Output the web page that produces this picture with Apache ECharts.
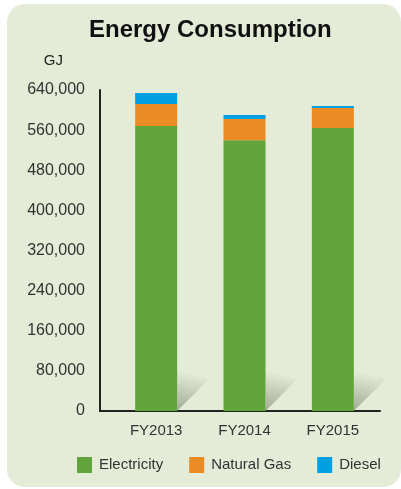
<!DOCTYPE html>
<html>
<head>
<meta charset="utf-8">
<script src="https://cdn.jsdelivr.net/npm/echarts@6/dist/echarts.min.js"></script>
<style>
  html, body { margin: 0; padding: 0; background: #fff; }
  #bg { position: absolute; left: 7px; top: 4px; width: 394px; height: 483px; border-radius: 18px; background: #e4ebd7; }
  #main { position: absolute; left: 0; top: 0; width: 401px; height: 489px; }
</style>
</head>
<body>
<div id="bg"></div>
<div id="main"></div>
<script>
  var categories = ['FY2013', 'FY2014', 'FY2015'];
  var electricity = [568000, 540000, 564000];
  var naturalGas = [44000, 42000, 40000];
  var diesel = [22000, 8000, 4000];
  var yTicks = [0, 80000, 160000, 240000, 320000, 400000, 480000, 560000, 640000];

  var font = '"Liberation Sans", Arial, sans-serif';
  var barWidth = 42;

  var myChart = echarts.init(document.getElementById('main'));
  myChart.setOption({
    animation: false,
    textStyle: { fontFamily: font },
    title: {
      text: 'Energy Consumption',
      left: 89,
      top: 18,
      padding: 0,
      textStyle: { fontSize: 24, fontWeight: 'bold', color: '#111', fontFamily: font }
    },
    legend: {
      data: ['Electricity', 'Natural Gas', 'Diesel'],
      left: 77,
      top: 457,
      padding: 0,
      icon: 'rect',
      itemWidth: 15,
      itemHeight: 16,
      itemGap: 26,
      textStyle: { fontSize: 15, color: '#333', padding: [0, 0, 0, 2] }
    },
    grid: [
      { left: 112, right: 24, top: 90, bottom: 78 },
      { left: 100, right: 21, top: 90, bottom: 78 }
    ],
    xAxis: [
      {
        type: 'category',
        gridIndex: 0,
        data: categories,
        axisLine: { show: false },
        axisTick: { show: false },
        axisLabel: { fontSize: 15, color: '#333', margin: 12 }
      },
      {
        // only draws the base line from the y axis to the right end
        type: 'category',
        gridIndex: 1,
        data: [''],
        axisLine: { lineStyle: { color: '#222', width: 2 } },
        axisTick: { show: false },
        axisLabel: { show: false }
      }
    ],
    yAxis: [
      {
        type: 'value',
        gridIndex: 0,
        min: yTicks[0],
        max: yTicks[yTicks.length - 1],
        interval: 80000,
        offset: 12,
        name: 'GJ',
        nameLocation: 'end',
        nameGap: 22,
        nameTextStyle: { fontSize: 15, color: '#222', align: 'right', padding: [0, 37, 0, 0] },
        axisLine: { show: true, lineStyle: { color: '#222', width: 2 } },
        axisTick: { show: false },
        splitLine: { show: false },
        axisLabel: {
          fontSize: 16,
          color: '#333',
          margin: 15,
          formatter: function (v) { return v.toLocaleString('en-US'); }
        }
      },
      { type: 'value', gridIndex: 1, show: false }
    ],
    series: [
      {
        // soft shadow cast to the right of each bar
        type: 'custom',
        xAxisIndex: 0,
        yAxisIndex: 0,
        silent: true,
        z: 1,
        data: categories.map(function (c, i) { return [i, 0]; }),
        renderItem: function (params, api) {
          var p = api.coord([api.value(0), 0]);
          var x = p[0] + barWidth / 2;
          var y = p[1];
          var s = 40;
          return {
            type: 'polygon',
            shape: { points: [[x, y], [x + s, y - s], [x, y - s]] },
            style: {
              fill: new echarts.graphic.LinearGradient(x + 4, y, x + s * 0.3, y - s * 0.95, [
                { offset: 0, color: 'rgba(110,120,100,0.55)' },
                { offset: 1, color: 'rgba(110,120,100,0)' }
              ], true)
            }
          };
        }
      },
      {
        name: 'Electricity',
        type: 'bar',
        stack: 'total',
        barWidth: barWidth,
        itemStyle: { color: '#62a43c' },
        z: 2,
        data: electricity
      },
      {
        name: 'Natural Gas',
        type: 'bar',
        stack: 'total',
        barWidth: barWidth,
        itemStyle: { color: '#ea8c23' },
        z: 2,
        data: naturalGas
      },
      {
        name: 'Diesel',
        type: 'bar',
        stack: 'total',
        barWidth: barWidth,
        itemStyle: { color: '#00a0e3' },
        z: 2,
        data: diesel
      }
    ]
  });
</script>
</body>
</html>
